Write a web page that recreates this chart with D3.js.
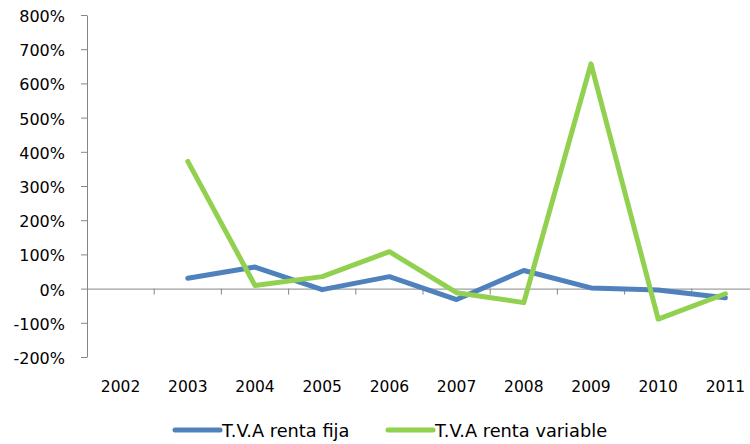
<!DOCTYPE html>
<html>
<head>
<meta charset="utf-8">
<script src="https://cdn.jsdelivr.net/npm/d3@7"></script>
<style>
  body { margin: 0; background: #fff; }
  text { font-family: "DejaVu Sans", sans-serif; fill: #000; }
</style>
</head>
<body>
<div id="chart"></div>
<script>
const years = ["2002", "2003", "2004", "2005", "2006", "2007", "2008", "2009", "2010", "2011"];
// percentages, null = no value
const rentaFija = [null, 30, 63, -3, 35, -32, 53, 2, -4, -27];
const rentaVariable = [null, 372, 9, 35, 108, -12, -41, 657, -89, -15];
const yTicks = [-200, -100, 0, 100, 200, 300, 400, 500, 600, 700, 800];

const series = [
  { name: "T.V.A renta fija", values: rentaFija, color: "#4F81BD" },
  { name: "T.V.A renta variable", values: rentaVariable, color: "#92D050" }
];

const outerWidth = 750;
const outerHeight = 444;

const svg = d3.select("#chart")
  .append("svg")
  .attr("width", outerWidth)
  .attr("height", outerHeight);

const x = d3.scaleBand().domain(years).range([87, 759]);
const y = d3.scaleLinear().domain([-200, 800]).range([357, 15]);

// y axis
const yAxis = svg.append("g")
  .attr("transform", "translate(87,0)")
  .call(d3.axisLeft(y).tickValues(yTicks).tickSize(6).tickSizeOuter(0).tickPadding(16)
    .tickFormat(d => d + "%"));
yAxis.select(".domain").attr("stroke", "#868686");
yAxis.selectAll(".tick line").attr("stroke", "#868686");
yAxis.selectAll(".tick text").attr("font-size", 16).attr("font-family", "DejaVu Sans").attr("dy", "0.4em");

// x axis at zero
const xAxis = svg.append("g")
  .attr("transform", `translate(0,${y(0)})`)
  .call(d3.axisBottom(x).tickSize(0).tickFormat(""));
xAxis.select(".domain").attr("stroke", "#868686");

// tick marks between categories
svg.append("g")
  .selectAll("line")
  .data(years.slice(1))
  .join("line")
  .attr("x1", d => x(d))
  .attr("x2", d => x(d))
  .attr("y1", y(0))
  .attr("y2", y(0) + 6)
  .attr("stroke", "#868686");

// category labels at bottom
svg.append("g")
  .selectAll("text")
  .data(years)
  .join("text")
  .attr("x", d => x(d) + x.bandwidth() / 2)
  .attr("y", 392)
  .attr("text-anchor", "middle")
  .attr("font-size", 15.5)
  .text(d => d);

// lines
const line = d3.line()
  .defined(d => d.v !== null)
  .x(d => x(d.year) + x.bandwidth() / 2)
  .y(d => y(d.v));

series.forEach(s => {
  svg.append("path")
    .datum(years.map((yr, i) => ({ year: yr, v: s.values[i] })))
    .attr("fill", "none")
    .attr("stroke", s.color)
    .attr("stroke-width", 5)
    .attr("stroke-linejoin", "round")
    .attr("stroke-linecap", "round")
    .attr("d", line);
});

// legend
const legendX = [175, 388];
const legend = svg.append("g");
series.forEach((s, i) => {
  legend.append("line")
    .attr("x1", legendX[i])
    .attr("x2", legendX[i] + 45)
    .attr("y1", 430)
    .attr("y2", 430)
    .attr("stroke", s.color)
    .attr("stroke-width", 5)
    .attr("stroke-linecap", "round");
  legend.append("text")
    .attr("x", legendX[i] + 47)
    .attr("y", 436.5)
    .attr("font-size", 17.8)
    .text(s.name);
});
</script>
</body>
</html>
